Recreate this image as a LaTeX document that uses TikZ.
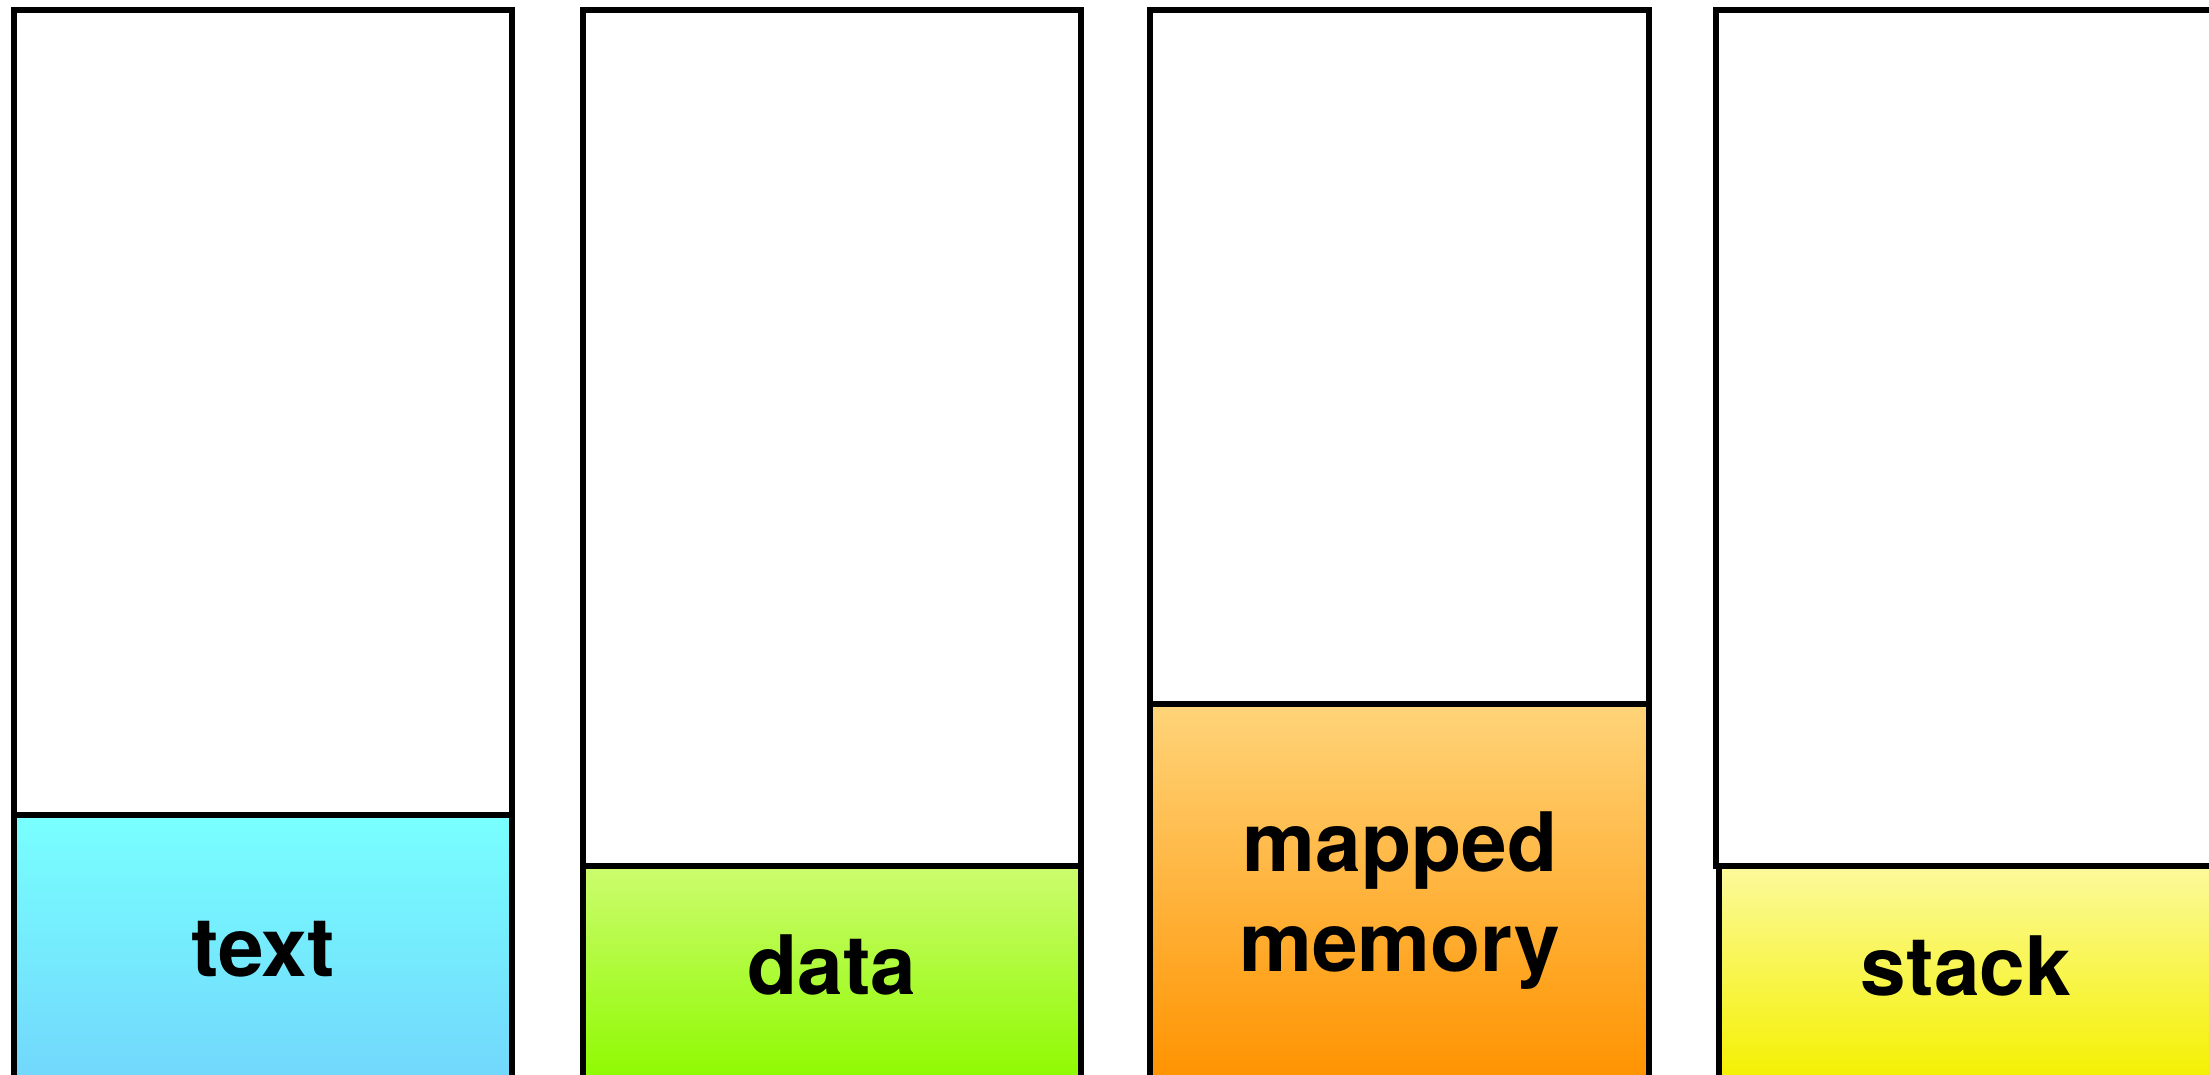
\documentclass[tikz,border=0pt]{standalone}
\usepackage{fontspec}
\setmainfont{TeX Gyre Heros}
\definecolor{cyanT}{HTML}{78FFFF}
\definecolor{cyanB}{HTML}{72D7FC}
\definecolor{greenT}{HTML}{CCFC6E}
\definecolor{greenB}{HTML}{8EFA00}
\definecolor{orangeT}{HTML}{FFD479}
\definecolor{orangeB}{HTML}{FF9300}
\definecolor{yellowT}{HTML}{FCFA9C}
\definecolor{yellowB}{HTML}{F4F000}
\begin{document}
\begin{tikzpicture}[x=0.5pt,y=-0.5pt,
  segline/.style={draw=black,line width=2.7pt},
  whitebox/.style={segline,fill=white},
  lbl/.style={font=\bfseries\fontsize{41}{50}\selectfont,anchor=base,align=center,inner sep=0pt}]
\useasboundingbox (0,0) rectangle (2209,1075);
\clip (0,0) rectangle (2209,1075);
% white upper areas
\draw[whitebox] (14,10) rectangle (512,866);
\draw[whitebox] (583,10) rectangle (1081,866);
\draw[whitebox] (1150,10) rectangle (1649,866);
\draw[whitebox] (1716,10) rectangle (2216,866);
% coloured segments
\shade[top color=cyanT,bottom color=cyanB] (14,815) rectangle (512,1080);
\draw[segline] (14,1080) -- (14,815) -- (512,815) -- (512,1080);
\shade[top color=greenT,bottom color=greenB] (583,866) rectangle (1081,1080);
\draw[segline] (583,1080) -- (583,866) -- (1081,866) -- (1081,1080);
\shade[top color=orangeT,bottom color=orangeB] (1150,704) rectangle (1649,1080);
\draw[segline] (1150,1080) -- (1150,704) -- (1649,704) -- (1649,1080);
\shade[top color=yellowT,bottom color=yellowB] (1719,866) rectangle (2216,1080);
\draw[segline] (1719,1080) -- (1719,866) -- (2216,866) -- (2216,1080);
% labels
\node[lbl] (ltext) at (263,976) {text};
\node[lbl] (ldata) at (832,994) {data};
\node[lbl] (lmapped) at (1400,971) {mapped\\memory};
\node[lbl] (lstack) at (1966,995) {stack};
\end{tikzpicture}
\end{document}
